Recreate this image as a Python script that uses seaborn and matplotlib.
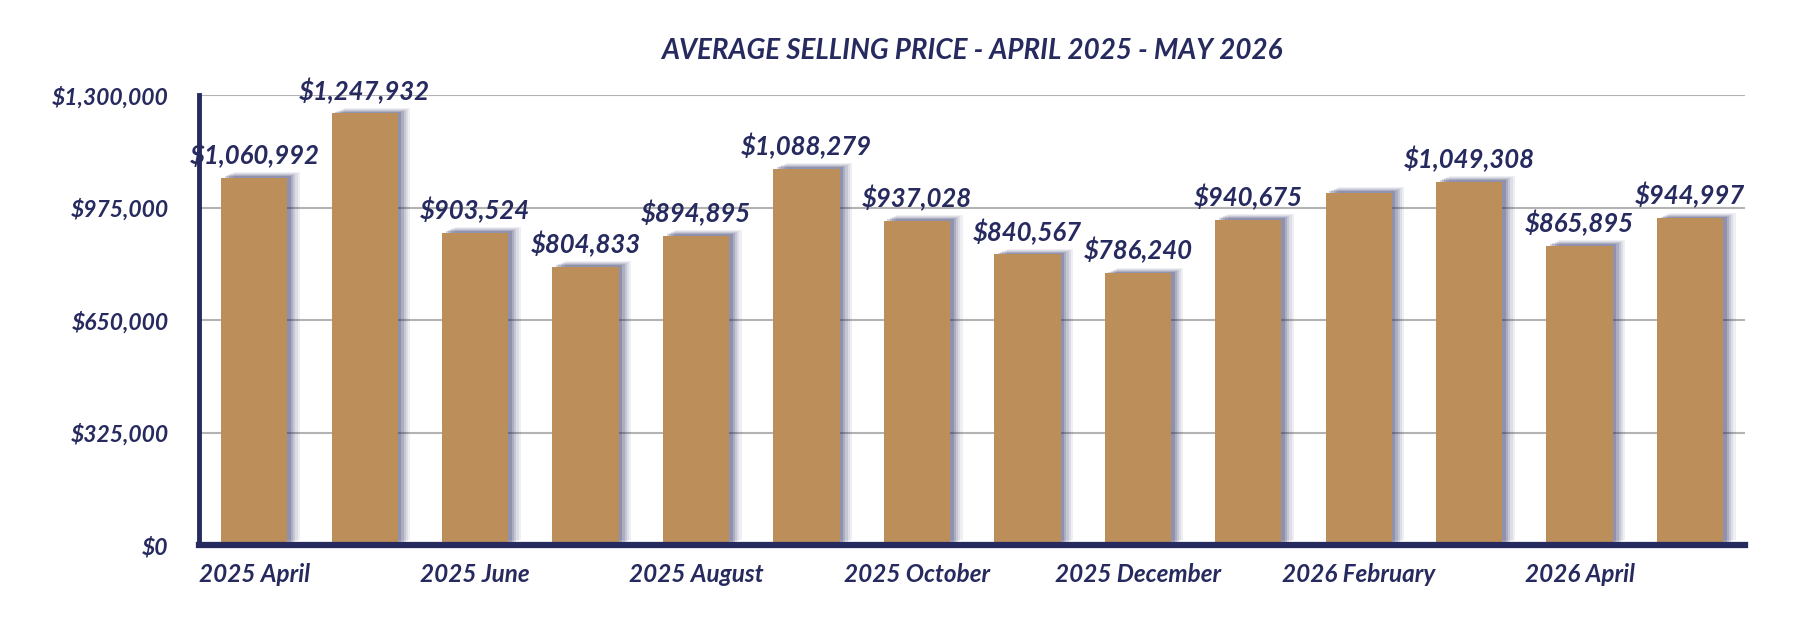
import numpy as np
import pandas as pd
import matplotlib
matplotlib.use("Agg")
import matplotlib.pyplot as plt
import matplotlib.patheffects as pe
import seaborn as sns

# data
months = ["2025 April", "2025 May", "2025 June", "2025 July", "2025 August",
          "2025 September", "2025 October", "2025 November", "2025 December",
          "2026 January", "2026 February", "2026 March", "2026 April", "2026 May"]
prices = [1060992, 1247932, 903524, 804833, 894895, 1088279, 937028,
          840567, 786240, 940675, 1018000, 1049308, 865895, 944997]
# the 2026 January bar carries no label in the original
show_label = [True] * 14
show_label[10] = False
tick_vals = [0, 325000, 650000, 975000, 1300000]
tick_text = ["$0", "$325,000", "$650,000", "$975,000", "$1,300,000"]

navy = "#262a5e"
gold = "#bc8f5a"

sns.set_style("white")
plt.rcParams["font.family"] = ["Lato", "DejaVu Sans"]

df = pd.DataFrame({"month": months, "price": prices})

fig = plt.figure(figsize=(18.18, 6.4), dpi=100)
ax = fig.add_axes([0.1095, 0.148, 0.8505, 0.703])

# gridlines behind bars
for v in tick_vals[1:]:
    ax.axhline(v, color="#b3b3b3", lw=1.5, zorder=0)

sns.barplot(data=df, x="month", y="price", color=gold, width=0.6,
            saturation=1, linewidth=0, ax=ax, zorder=3)

# soft navy shadow to the upper right of each bar (stacked to fake a blur)
shadow = []
for i, a in enumerate([0.07, 0.09, 0.12, 0.16, 0.2]):
    off = 9 - i * 1.6
    shadow.append(pe.SimplePatchShadow(offset=(off, off * 0.45), shadow_rgbFace=navy, alpha=a))
for p in ax.patches:
    p.set_linewidth(0)
    p.set_path_effects(shadow + [pe.Normal()])

for i, (v, s) in enumerate(zip(prices, show_label)):
    if s:
        ax.annotate(f"${v:,}", (i, v), xytext=(0, 7), textcoords="offset points",
                    ha="center", va="bottom", fontsize=18.5, fontweight="bold",
                    fontstyle="italic", color=navy, zorder=5)

ax.set_xlim(-0.5, 13.5)
ax.set_ylim(0, 1300000)
ax.set_yticks(tick_vals)
ax.set_yticklabels(tick_text)
ax.set_xticks(range(len(months)))
ax.set_xticklabels([m if i % 2 == 0 else "" for i, m in enumerate(months)])
ax.set_xlabel("")
ax.set_ylabel("")

for lab in ax.get_yticklabels():
    lab.set_fontsize(16.5)
for lab in ax.get_xticklabels():
    lab.set_fontsize(17.5)
for lab in ax.get_xticklabels() + ax.get_yticklabels():
    lab.set_fontweight("bold")
    lab.set_fontstyle("italic")
    lab.set_color(navy)
ax.tick_params(axis="y", length=0, pad=22)
ax.tick_params(axis="x", length=0, pad=13)

for side in ["top", "right"]:
    ax.spines[side].set_visible(False)
ax.spines["left"].set_color(navy)
ax.spines["left"].set_linewidth(3.5)
ax.spines["bottom"].set_color(navy)
ax.spines["bottom"].set_linewidth(4.5)
ax.spines["left"].set_zorder(6)
ax.spines["bottom"].set_zorder(6)

ax.set_title("AVERAGE SELLING PRICE - APRIL 2025 - MAY 2026", fontsize=20,
             fontweight="bold", fontstyle="italic", color=navy, pad=26)

fig.savefig("out.png", dpi=100, facecolor="white")
